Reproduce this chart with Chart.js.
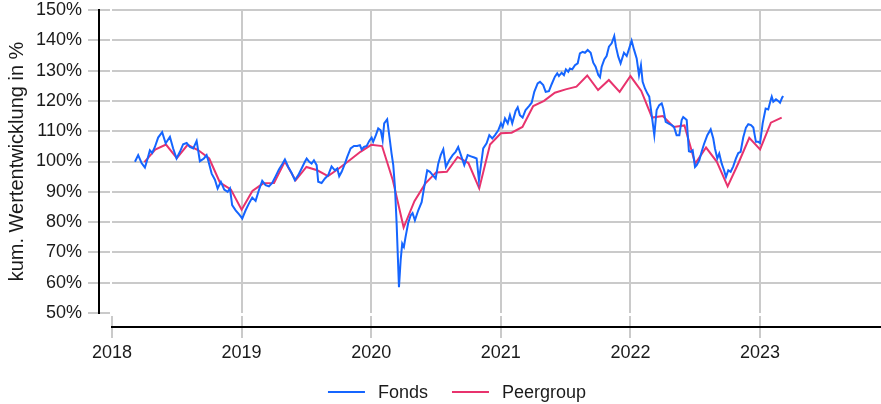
<!DOCTYPE html>
<html><head><meta charset="utf-8">
<script src="https://cdn.jsdelivr.net/npm/chart.js@4.4.0/dist/chart.umd.min.js"></script>
<style>html,body{margin:0;padding:0;background:#fff;}#wrap{width:881px;height:404px;}</style>
</head><body><div id="wrap"><canvas id="c" width="881" height="404"></canvas></div>
<script>
const yearTicks = [2018, 2019, 2020, 2021, 2022, 2023];
const yTicks = [50, 60, 70, 80, 90, 100, 110, 120, 130, 140, 150];
const seriesNames = ['Fonds', 'Peergroup'];

const fondsDates = [
2018.177,2018.202,2018.228,2018.254,2018.275,2018.292,2018.310,2018.331,2018.356,2018.387,
2018.414,2018.447,2018.472,2018.498,2018.524,2018.549,2018.576,2018.601,2018.627,2018.653,
2018.678,2018.709,2018.730,2018.742,2018.769,2018.794,2018.815,2018.840,2018.866,2018.892,
2018.910,2018.927,2018.954,2018.979,2019.005,2019.031,2019.056,2019.082,2019.108,2019.133,
2019.159,2019.185,2019.211,2019.236,2019.262,2019.288,2019.313,2019.334,2019.360,2019.386,
2019.411,2019.437,2019.463,2019.488,2019.502,2019.522,2019.540,2019.558,2019.579,2019.591,
2019.617,2019.643,2019.668,2019.694,2019.720,2019.738,2019.753,2019.772,2019.797,2019.815,
2019.841,2019.867,2019.892,2019.913,2019.926,2019.944,2019.965,2019.985,2020.003,2020.015,
2020.036,2020.054,2020.073,2020.088,2020.100,2020.123,2020.144,2020.157,2020.170,2020.183,
2020.196,2020.214,2020.227,2020.239,2020.252,2020.265,2020.285,2020.304,2020.319,2020.337,
2020.363,2020.389,2020.409,2020.432,2020.453,2020.474,2020.497,2020.517,2020.536,2020.556,
2020.576,2020.602,2020.628,2020.651,2020.671,2020.692,2020.718,2020.744,2020.769,2020.795,
2020.813,2020.831,2020.864,2020.890,2020.911,2020.934,2020.955,2020.980,2021.001,2021.014,
2021.032,2021.053,2021.070,2021.088,2021.114,2021.130,2021.147,2021.168,2021.191,2021.217,
2021.238,2021.258,2021.284,2021.302,2021.327,2021.346,2021.371,2021.392,2021.417,2021.435,
2021.448,2021.469,2021.487,2021.502,2021.520,2021.533,2021.551,2021.572,2021.593,2021.610,
2021.631,2021.649,2021.670,2021.693,2021.713,2021.731,2021.752,2021.765,2021.778,2021.798,
2021.816,2021.834,2021.855,2021.875,2021.888,2021.906,2021.924,2021.950,2021.971,2021.991,
2022.009,2022.027,2022.048,2022.066,2022.081,2022.094,2022.112,2022.130,2022.145,2022.164,
2022.184,2022.202,2022.222,2022.241,2022.253,2022.272,2022.292,2022.318,2022.336,2022.356,
2022.377,2022.395,2022.407,2022.421,2022.434,2022.451,2022.465,2022.480,2022.498,2022.511,
2022.531,2022.549,2022.567,2022.593,2022.619,2022.639,2022.652,2022.670,2022.685,2022.704,
2022.722,2022.737,2022.755,2022.773,2022.793,2022.814,2022.832,2022.850,2022.870,2022.891,
2022.909,2022.930,2022.948,2022.968,2022.986,2023.000,2023.020,2023.043,2023.063,2023.082,
2023.090,2023.102,2023.123,2023.140,2023.154,2023.171,2023.179];

const fondsValues = [
99.9,102.1,99.5,98.0,101.0,103.7,102.8,104.8,107.9,109.7,
106.0,108.1,104.3,101.0,103.2,105.7,106.1,104.8,104.3,106.8,
100.1,101.0,102.1,100.4,96.0,94.0,91.1,93.3,90.7,90.0,
91.1,85.6,83.9,82.6,81.2,83.9,86.1,88.1,87.0,90.5,
93.6,92.2,91.8,92.9,95.1,97.4,99.1,100.7,98.2,96.2,
93.8,95.5,97.7,99.9,101.0,99.9,99.3,100.4,98.8,93.3,
92.9,94.4,95.5,98.4,97.1,97.7,95.1,96.6,99.3,101.5,
104.3,105.1,105.1,105.4,104.0,104.8,105.1,106.8,107.9,106.5,
108.7,110.9,110.3,107.0,112.6,113.9,107.0,102.6,98.8,91.6,
79.5,58.5,67.4,72.9,71.8,75.1,79.7,82.2,83.0,80.6,
83.9,86.6,91.6,97.1,96.6,95.5,94.4,99.3,102.1,104.0,
98.2,100.4,102.1,103.2,104.8,102.1,98.8,102.1,101.7,101.3,
101.0,93.8,104.3,106.0,108.7,107.6,108.7,110.3,112.6,111.4,
114.2,112.6,115.3,112.6,116.7,117.9,115.3,114.5,117.0,118.3,
119.4,123.0,125.8,126.3,125.2,123.0,123.2,125.5,128.0,129.1,
128.2,129.3,128.5,130.4,129.6,130.7,130.4,131.8,132.4,135.7,
136.2,135.9,136.8,135.9,132.6,131.3,128.5,127.8,131.3,133.7,
134.8,137.9,139.0,141.4,137.9,134.6,132.4,135.9,134.8,137.4,
139.9,137.0,134.0,128.5,131.8,126.3,124.1,122.5,121.4,115.3,
108.7,117.0,118.6,119.2,117.5,113.1,112.6,112.0,111.4,108.7,
108.7,113.7,114.7,114.2,113.7,103.4,103.2,103.7,98.2,98.8,
100.4,103.2,105.7,108.7,110.6,107.6,104.3,101.0,102.6,99.3,
97.1,94.9,97.1,96.6,98.4,101.0,102.8,103.2,107.9,111.2,
112.3,112.0,111.2,106.5,106.5,106.1,112.6,117.5,117.2,120.3,
121.4,119.7,120.5,120.0,119.4,121.2,121.6];

const peerMonths = [
'2018-03','2018-04','2018-05','2018-06','2018-07','2018-08','2018-09','2018-10','2018-11','2018-12',
'2019-01','2019-02','2019-03','2019-04','2019-05','2019-06','2019-07','2019-08','2019-09','2019-10','2019-11','2019-12',
'2020-01','2020-02','2020-03','2020-04','2020-05','2020-06','2020-07','2020-08','2020-09','2020-10','2020-11','2020-12',
'2021-01','2021-02','2021-03','2021-04','2021-05','2021-06','2021-07','2021-08','2021-09','2021-10','2021-11','2021-12',
'2022-01','2022-02','2022-03','2022-04','2022-05','2022-06','2022-07','2022-08','2022-09','2022-10','2022-11','2022-12',
'2023-01','2023-02'];

const peerValues = [
99.8,103.9,105.6,101.1,105.5,103.7,101.0,93.0,90.8,84.1,
90.3,92.8,92.9,100.0,93.8,98.2,97.1,95.2,97.7,100.4,103.2,105.5,
105.1,93.8,78.2,86.9,92.7,96.4,96.6,101.5,99.5,91.1,105.6,109.3,
109.5,111.4,118.3,120.0,122.7,123.8,124.7,128.4,123.6,126.9,123.0,128.2,
123.3,114.5,115.0,111.4,111.9,99.3,104.6,99.9,91.8,99.5,107.8,104.0,
112.8,114.5];

const COLORS = { fonds: '#1565ff', peer: '#e8336d', grid: '#cacaca', axis: '#000000', text: '#1a1a1a' };
const FONT = '"Liberation Sans", Arial, Helvetica, sans-serif';
const FS = 18;
const FS_TITLE = 20;

// month-end as decimal year
const monthToYear = s => { const [y, m] = s.split('-').map(Number); return y + m / 12; };

const fondsData = fondsDates.map((d, i) => ({ x: d, y: fondsValues[i] }));
const peerData = peerMonths.map((m, i) => ({ x: monthToYear(m), y: peerValues[i] }));

const ggAxes = {
  id: 'ggAxes',
  afterDraw(chart) {
    const { ctx, scales: { x, y }, chartArea: ca } = chart;
    ctx.save();
    ctx.lineWidth = 2;
    ctx.strokeStyle = COLORS.grid;
    y.ticks.forEach(t => {
      const py = Math.round(y.getPixelForValue(t.value));
      ctx.beginPath(); ctx.moveTo(ca.left - 24, py); ctx.lineTo(ca.left - 2, py); ctx.stroke();
    });
    x.ticks.forEach(t => {
      const px = Math.round(x.getPixelForValue(t.value));
      ctx.beginPath(); ctx.moveTo(px, ca.bottom + 3); ctx.lineTo(px, ca.bottom + 25); ctx.stroke();
    });
    ctx.strokeStyle = COLORS.axis;
    const ax = ca.left - 13;
    ctx.beginPath(); ctx.moveTo(ax, Math.round(y.getPixelForValue(yTicks[yTicks.length - 1])) - 1);
    ctx.lineTo(ax, Math.round(y.getPixelForValue(yTicks[0])) + 1); ctx.stroke();
    const ay = Math.round(ca.bottom) + 14;
    ctx.beginPath(); ctx.moveTo(Math.round(x.getPixelForValue(yearTicks[0])) - 1, ay); ctx.lineTo(ca.right, ay); ctx.stroke();
    ctx.restore();
  }
};

const ggLegend = {
  id: 'ggLegend',
  afterDraw(chart) {
    const { ctx } = chart;
    ctx.save();
    ctx.font = FS + 'px ' + FONT;
    const lineW = 37, gap = 13, between = 24;
    const items = chart.data.datasets.map(ds => ({ label: ds.label, color: ds.borderColor, w: ctx.measureText(ds.label).width }));
    const total = items.reduce((s, it) => s + lineW + gap + it.w, 0) + between * (items.length - 1);
    let x = 457 - total / 2;
    const yy = 392;
    items.forEach(it => {
      ctx.strokeStyle = it.color; ctx.lineWidth = 2;
      ctx.beginPath(); ctx.moveTo(x, yy); ctx.lineTo(x + lineW, yy); ctx.stroke();
      ctx.fillStyle = COLORS.text; ctx.textBaseline = 'middle'; ctx.textAlign = 'left';
      ctx.fillText(it.label, x + lineW + gap, yy + 1);
      x += lineW + gap + it.w + between;
    });
    ctx.restore();
  }
};

Chart.defaults.font.family = FONT;
Chart.defaults.font.size = FS;
Chart.defaults.color = COLORS.text;

new Chart(document.getElementById('c'), {
  type: 'line',
  data: {
    datasets: [
      { label: seriesNames[0], data: fondsData, borderColor: COLORS.fonds, borderWidth: 2, pointRadius: 0, tension: 0, fill: false },
      { label: seriesNames[1], data: peerData, borderColor: COLORS.peer, borderWidth: 2, pointRadius: 0, tension: 0, fill: false }
    ]
  },
  options: {
    responsive: false,
    animation: false,
    devicePixelRatio: 1,
    layout: { padding: { top: 10, left: 0, right: 0, bottom: 0 } },
    plugins: { legend: { display: false }, tooltip: { enabled: false } },
    scales: {
      x: {
        type: 'linear',
        min: 2018, max: 2023.933,
        afterBuildTicks: s => { s.ticks = yearTicks.map(v => ({ value: v })); },
        ticks: { includeBounds: false, autoSkip: false, maxRotation: 0, padding: 29, callback: v => String(v) },
        grid: { drawTicks: false, lineWidth: 2, color: c => (c.tick && c.tick.value === yearTicks[0]) ? 'rgba(0,0,0,0)' : COLORS.grid },
        border: { display: false },
        afterFit: s => { s.height = 91; s.paddingLeft = 0; s.paddingRight = 0; }
      },
      y: {
        min: 50, max: 150,
        afterBuildTicks: s => { s.ticks = yTicks.map(v => ({ value: v })); },
        ticks: { padding: 30, callback: v => v + '%' },
        grid: { drawTicks: false, lineWidth: 2, color: c => (c.tick && c.tick.value === yTicks[0]) ? 'rgba(0,0,0,0)' : COLORS.grid },
        border: { display: false },
        title: { display: true, text: 'kum. Wertentwicklung in %', padding: { top: 5, bottom: 0 }, font: { size: FS_TITLE } },
        afterFit: s => { s.width = 112; s.paddingTop = 0; s.paddingBottom = 0; }
      }
    }
  },
  plugins: [ggAxes, ggLegend]
});
</script>
</body></html>
